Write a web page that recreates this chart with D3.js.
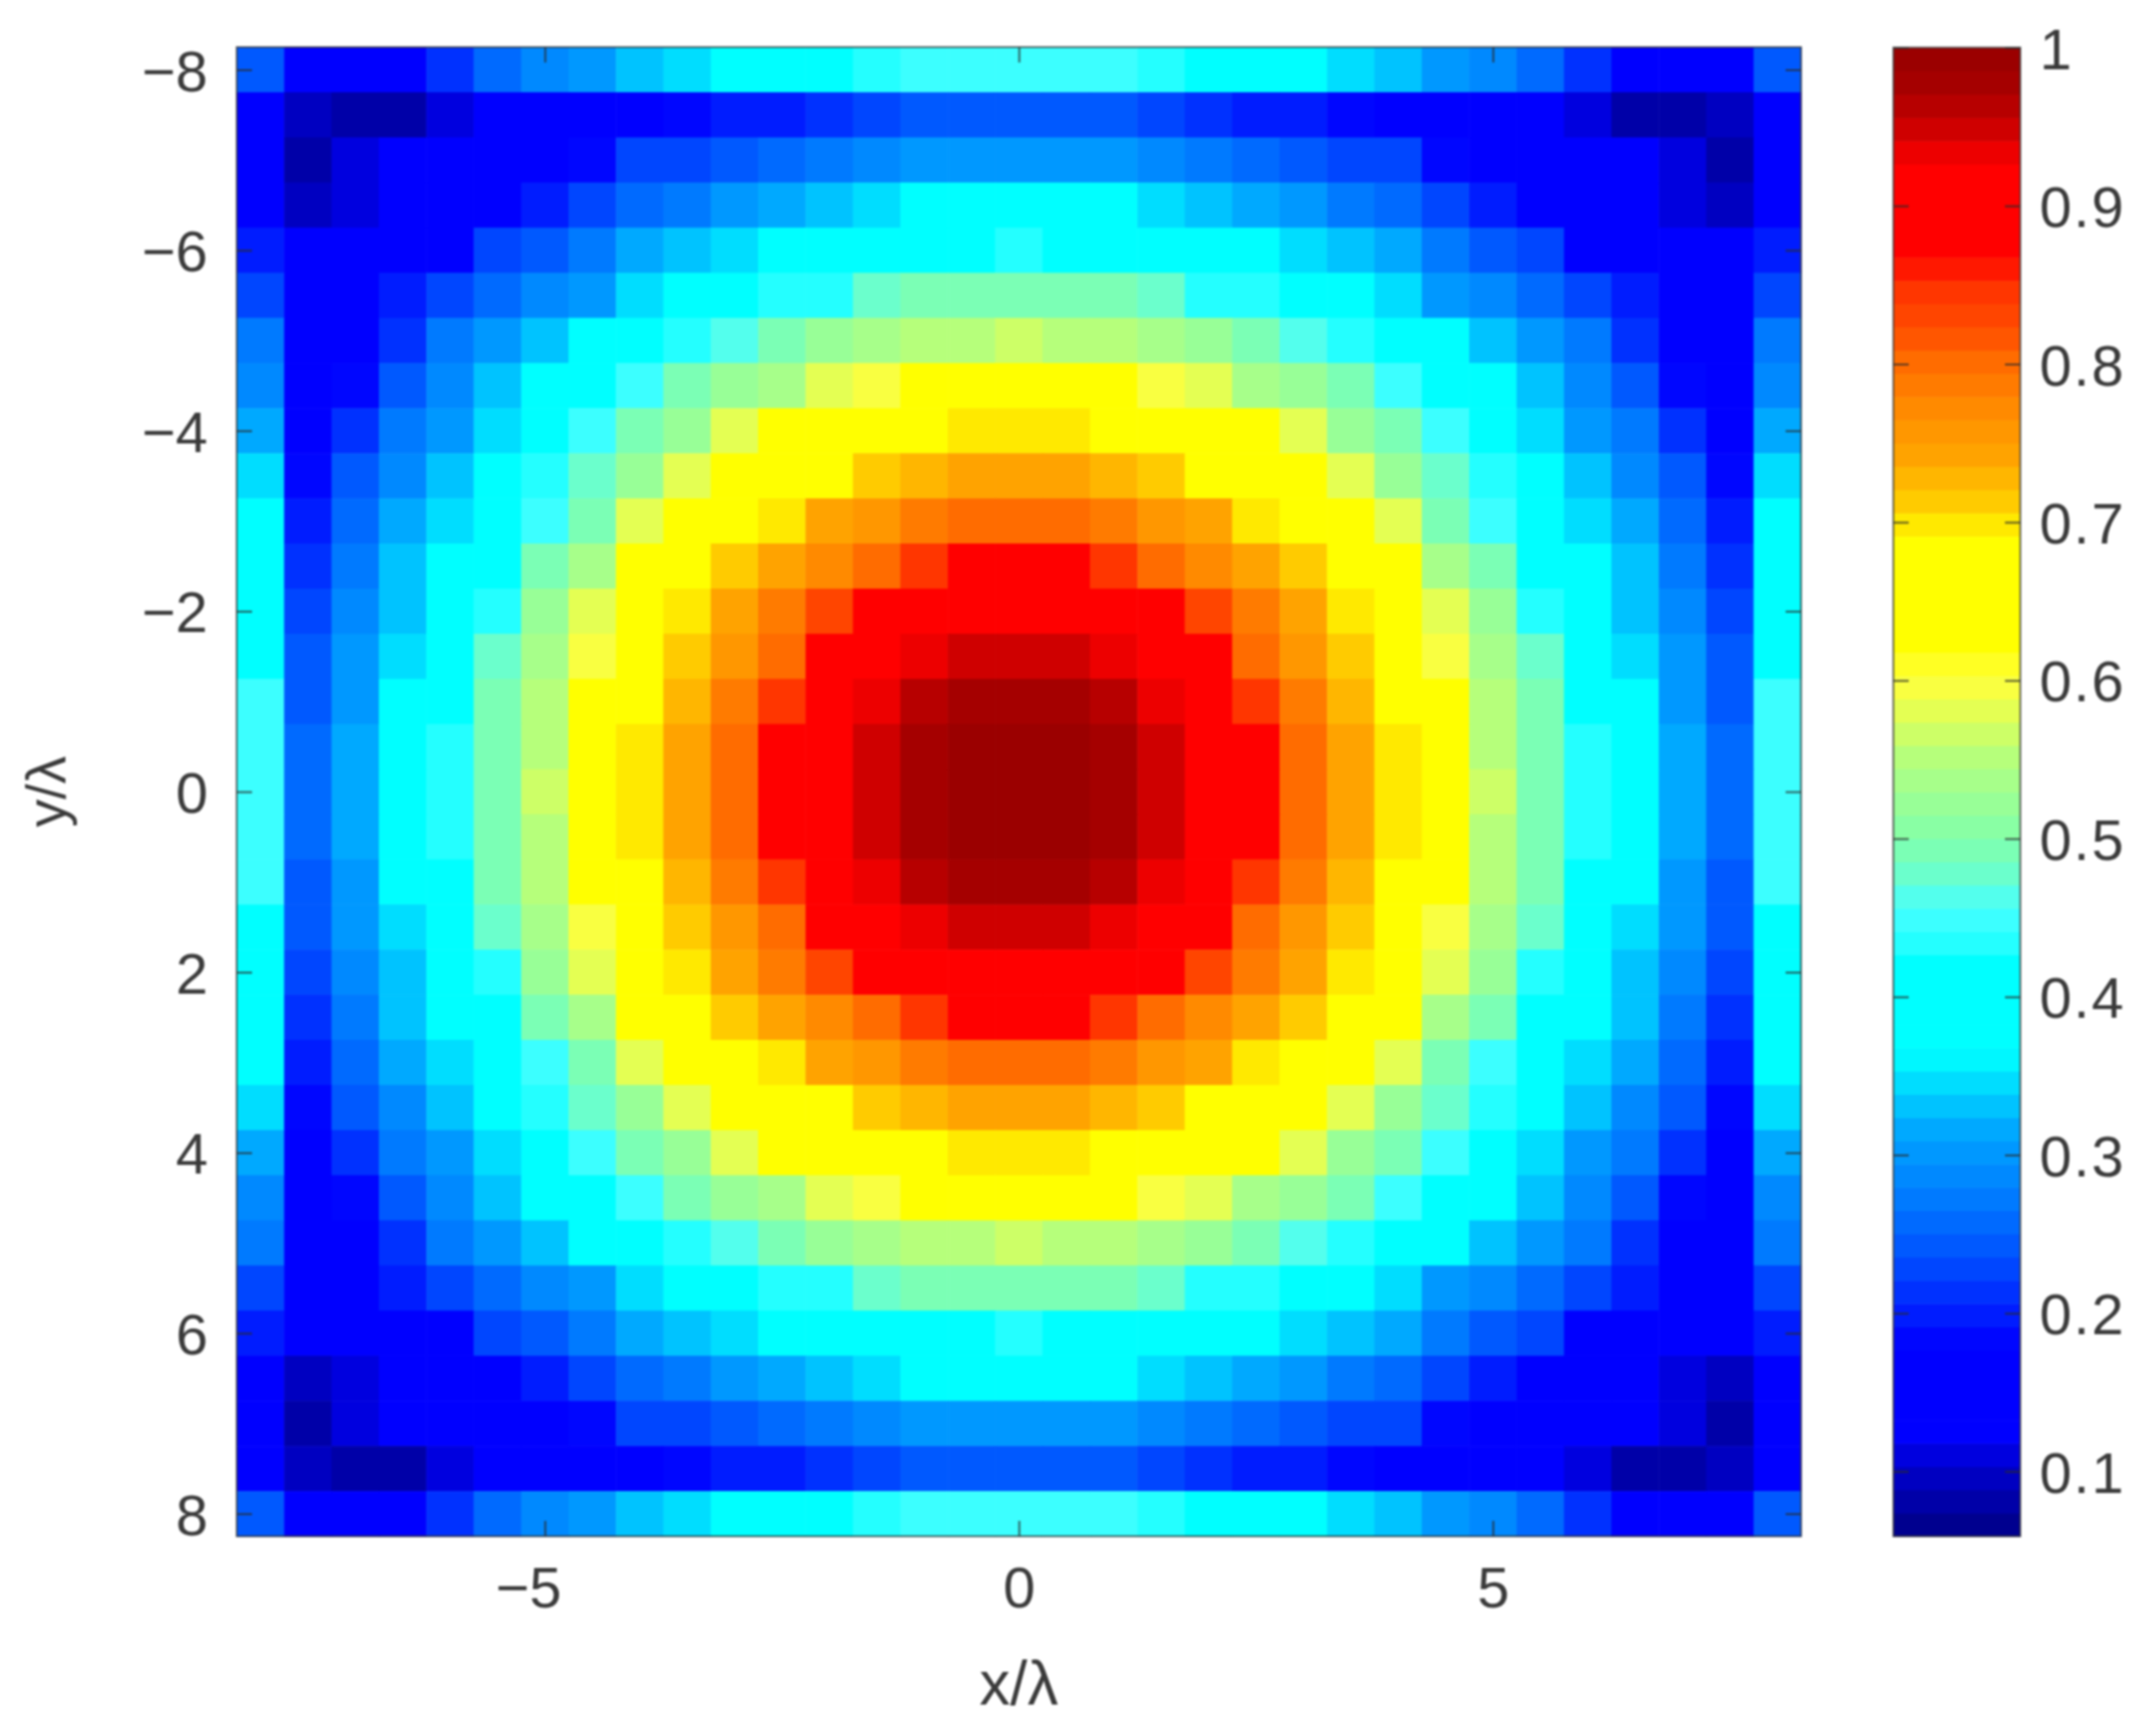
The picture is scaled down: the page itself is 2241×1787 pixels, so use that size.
<!DOCTYPE html>
<html>
<head>
<meta charset="utf-8">
<script src="https://cdn.jsdelivr.net/npm/d3@7"></script>
<style>
html,body{margin:0;padding:0;background:#fff}
svg{display:block;filter:blur(1.2px)}
text{font-family:"Liberation Sans",Arial,sans-serif;fill:#3a3a3a}
</style>
</head>
<body>
<svg id="c" width="2241" height="1787"></svg>
<script>
// Top-left quadrant of the symmetric 33x33 field (rows -8..0, columns -8..0)
const quadrant = [
[.24,.16,.15,.15,.215,.255,.285,.305,.33,.35,.39,.39,.41,.44,.45,.45,.45],
[.13,.09,.08,.085,.11,.125,.135,.15,.16,.19,.205,.205,.22,.23,.245,.25,.25],
[.14,.085,.105,.12,.13,.135,.15,.19,.225,.235,.25,.255,.265,.285,.295,.30,.30],
[.145,.09,.11,.13,.135,.175,.195,.23,.255,.265,.305,.31,.325,.345,.375,.38,.38],
[.205,.125,.135,.145,.17,.225,.25,.27,.31,.335,.35,.375,.38,.385,.40,.425,.43],
[.235,.15,.15,.20,.225,.255,.29,.305,.345,.375,.38,.43,.44,.475,.49,.495,.50],
[.265,.15,.16,.21,.265,.305,.325,.375,.38,.43,.47,.50,.515,.53,.55,.555,.56],
[.285,.15,.18,.25,.28,.325,.37,.38,.45,.495,.525,.54,.575,.595,.625,.65,.655],
[.31,.16,.22,.275,.30,.345,.38,.445,.49,.52,.585,.625,.65,.655,.66,.695,.70],
[.345,.185,.245,.285,.33,.375,.43,.475,.52,.585,.65,.655,.69,.715,.725,.74,.74],
[.38,.205,.26,.32,.35,.375,.45,.50,.58,.65,.66,.70,.74,.755,.78,.80,.80],
[.39,.22,.275,.325,.375,.42,.49,.54,.62,.655,.715,.74,.775,.805,.845,.88,.885],
[.395,.235,.29,.335,.38,.44,.525,.575,.65,.70,.74,.78,.835,.88,.89,.90,.90],
[.415,.245,.30,.345,.385,.475,.53,.60,.655,.72,.755,.805,.88,.89,.93,.95,.955],
[.45,.25,.305,.375,.39,.49,.55,.625,.66,.73,.78,.845,.89,.935,.965,.975,.975],
[.45,.255,.31,.38,.43,.495,.555,.65,.695,.74,.80,.88,.90,.945,.975,.99,.995],
[.45,.255,.31,.385,.43,.50,.56,.655,.70,.74,.80,.885,.90,.945,.975,.995,1]
];
const xTicks = [-5,0,5];
const yTicks = [-8,-6,-4,-2,0,2,4,6,8];
const barTicks = [.1,.2,.3,.4,.5,.6,.7,.8,.9,1];
const valueRange = [.059,1];
const axisExtent = [-8.25,8.25];
// Colour map
const mapValues = [.059,.1,.125,.18,.2,.235,.27,.3,.317,.342,.365,.425,.43,.455,.48,.5,.535,.555,.575,.6,.625,.695,.7,.715,.74,.77,.8,.82,.85,.87,.925,.947,.971,1];
const mapColors = ["#000082","#0000c8","#0000ff","#0000ff","#001eff","#0050ff","#0078ff","#0096ff","#00aaff","#00d7ff","#00ffff","#00ffff","#1effff","#46ffff","#6effc8","#82ffaa","#a5ff8c","#b9ff78","#dcff5a","#ffff3c","#ffff00","#ffff00","#ffe100","#ffc800","#ffa500","#ff8c00","#ff6e00","#ff5000","#ff3200","#ff0000","#ff0000","#d20000","#aa0000","#960000"];
const levels = 64;

const P = {l:246,r:1872,t:49,b:1597};
const B = {l:1968,r:2100,t:49.5,b:1597};
const svg = d3.select("#c");
const n = quadrant.length*2-1;
const mirror = i => Math.min(i,n-1-i);

const ramp = d3.scaleLinear().domain(mapValues).range(mapColors).interpolate(d3.interpolateRgb).clamp(true);
const levelValues = d3.range(levels).map(i => valueRange[0]+(i+.5)*(valueRange[1]-valueRange[0])/levels);
const color = d3.scaleQuantize().domain(valueRange).range(levelValues.map(ramp));

const cx = d3.scaleBand().domain(d3.range(n)).range([P.l,P.r]);
const cy = d3.scaleBand().domain(d3.range(n)).range([P.t,P.b]);
const x = d3.scaleLinear().domain(axisExtent).range([P.l,P.r]);
const y = d3.scaleLinear().domain(axisExtent).range([P.t,P.b]);

// heat map cells
const cells = d3.cross(d3.range(n),d3.range(n)).map(([r,c]) => ({r,c,v:quadrant[mirror(r)][mirror(c)]}));
svg.append("g").selectAll("rect").data(cells).join("rect")
  .attr("x",d=>cx(d.c)).attr("y",d=>cy(d.r))
  .attr("width",cx.bandwidth()+.6).attr("height",cy.bandwidth()+.6)
  .attr("fill",d=>color(d.v));

// colour bar
const barScale = d3.scaleLinear().domain(valueRange).range([B.b,B.t]);
const barBand = d3.scaleBand().domain(d3.range(levels)).range([B.b,B.t]);
svg.append("g").selectAll("rect").data(levelValues).join("rect")
  .attr("x",B.l).attr("width",B.r-B.l)
  .attr("y",(d,i)=>barBand(i)).attr("height",barBand.bandwidth()+.6)
  .attr("fill",d=>ramp(d));

const fmt = d => String(d).replace("-","\u2212");
const styleAxis = g => {
  g.select(".domain").remove();
  g.selectAll("line").attr("stroke","#2b2b2b").attr("stroke-width",2).attr("stroke-opacity",.75);
  g.selectAll("text").attr("font-size",60).attr("dy",".36em");
};
const tick = 16;

const xAxisG = svg.append("g").attr("transform",`translate(0,${P.b})`)
  .call(d3.axisBottom(x).tickValues(xTicks).tickFormat(fmt).tickSizeInner(-tick).tickPadding(tick+15))
  .call(styleAxis);
// the digit, not the whole label, sits under the tick
xAxisG.selectAll("text").attr("dy",".71em").attr("dx",d => d<0 ? "-.29em" : 0);
svg.append("g").attr("transform",`translate(0,${P.t})`)
  .call(d3.axisTop(x).tickValues(xTicks).tickFormat("").tickSizeInner(-tick)).call(styleAxis);
svg.append("g").attr("transform",`translate(${P.l},0)`)
  .call(d3.axisLeft(y).tickValues(yTicks).tickFormat(fmt).tickSizeInner(-tick).tickPadding(tick+14))
  .call(styleAxis);
svg.append("g").attr("transform",`translate(${P.r},0)`)
  .call(d3.axisRight(y).tickValues(yTicks).tickFormat("").tickSizeInner(-tick)).call(styleAxis);

svg.append("g").attr("transform",`translate(${B.r},0)`)
  .call(d3.axisRight(barScale).tickValues(barTicks).tickFormat(d=>String(d)).tickSizeInner(-tick).tickPadding(tick+4))
  .call(styleAxis)
  .selectAll("text").attr("letter-spacing",2);
svg.append("g").attr("transform",`translate(${B.l},0)`)
  .call(d3.axisLeft(barScale).tickValues(barTicks).tickFormat("").tickSizeInner(-tick)).call(styleAxis);

// frames
[P,B].forEach(f => svg.append("rect")
  .attr("x",f.l).attr("y",f.t).attr("width",f.r-f.l).attr("height",f.b-f.t)
  .attr("fill","none").attr("stroke","#333").attr("stroke-width",2).attr("stroke-opacity",.7));

// axis titles
svg.append("text").attr("x",x(0)).attr("y",1772).attr("text-anchor","middle").attr("font-size",64).text("x/\u03bb");
svg.append("text").attr("transform",`translate(68,${y(0)}) rotate(-90)`).attr("text-anchor","middle").attr("font-size",58).text("y/\u03bb");
</script>
</body>
</html>
